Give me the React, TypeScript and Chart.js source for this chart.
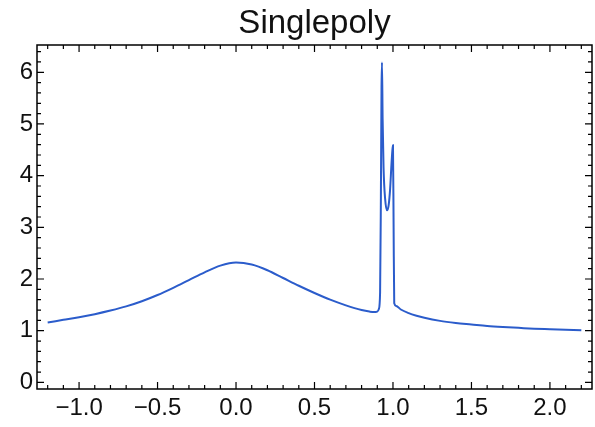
import React, { useEffect, useRef } from "react";
import { Chart, registerables } from "chart.js";

Chart.register(...registerables);

const titleText = "Singlepoly";

const xValues = [
  -1.2, -1.1, -1.0, -0.9, -0.8, -0.7, -0.6, -0.5, -0.4, -0.3, -0.2, -0.1, 0.0,
  0.1, 0.2, 0.3, 0.4, 0.5, 0.6, 0.7, 0.8, 0.85, 0.88, 0.9, 0.91, 0.918, 0.923,
  0.927, 0.93, 0.934, 0.94, 0.95, 0.962, 0.972, 0.982, 0.99, 0.996, 1.0, 1.004,
  1.008, 1.02, 1.05, 1.1, 1.15, 1.2, 1.3, 1.4, 1.5, 1.6, 1.7, 1.8, 1.9, 2.0,
  2.1, 2.2,
];

const yValues = [
  1.16, 1.21, 1.26, 1.32, 1.39, 1.47, 1.57, 1.69, 1.83, 1.98, 2.13, 2.26, 2.32,
  2.28, 2.17, 2.02, 1.87, 1.73, 1.6, 1.49, 1.4, 1.37, 1.36, 1.37, 1.42, 1.75,
  3.6, 5.7, 6.19, 5.1, 4.15, 3.55, 3.33, 3.42, 3.75, 4.2, 4.48, 4.59, 3.0,
  1.53, 1.48, 1.41, 1.34, 1.29, 1.25, 1.19, 1.15, 1.12, 1.09, 1.07, 1.055, 1.04,
  1.03, 1.02, 1.01,
];

const xMajorTicks = [-1.0, -0.5, 0.0, 0.5, 1.0, 1.5, 2.0];
const yMajorTicks = [0, 1, 2, 3, 4, 5, 6];

const X_MIN = -1.268;
const X_MAX = 2.268;
const Y_MIN = -0.128;
const Y_MAX = 6.528;

const fmt = (v: number, digits: number) => {
  const s = Math.abs(v).toFixed(digits);
  return v < -1e-9 ? "\u2212" + s : s;
};

const framePlugin = {
  id: "frameTicks",
  afterDatasetsDraw(chart: any) {
    const { ctx, chartArea } = chart;
    const { left, right, top, bottom } = chartArea;
    const xs = chart.scales.x;
    const ys = chart.scales.y;
    ctx.save();
    ctx.fillStyle = "#111";
    ctx.font = "33px 'Liberation Sans'";
    ctx.textAlign = "center";
    ctx.textBaseline = "alphabetic";
    ctx.fillText(titleText, (left + right) / 2, 33);

    ctx.strokeStyle = "#000";
    ctx.lineWidth = 1.5;
    ctx.strokeRect(left, top, right - left, bottom - top);
    ctx.lineWidth = 1.2;
    ctx.beginPath();
    for (let i = Math.ceil(X_MIN * 10); i <= Math.floor(X_MAX * 10); i++) {
      const px = xs.getPixelForValue(i / 10);
      const len = i % 5 === 0 ? 7 : 4;
      ctx.moveTo(px, bottom);
      ctx.lineTo(px, bottom - len);
      ctx.moveTo(px, top);
      ctx.lineTo(px, top + len);
    }
    for (let i = Math.ceil(Y_MIN * 5); i <= Math.floor(Y_MAX * 5); i++) {
      const py = ys.getPixelForValue(i / 5);
      const len = i % 5 === 0 ? 7 : 4;
      ctx.moveTo(left, py);
      ctx.lineTo(left + len, py);
      ctx.moveTo(right, py);
      ctx.lineTo(right - len, py);
    }
    ctx.stroke();
    ctx.restore();
  },
};

export default function App() {
  const canvasRef = useRef<HTMLCanvasElement | null>(null);

  useEffect(() => {
    if (!canvasRef.current) return;
    const points = xValues.map((x, i) => ({ x, y: yValues[i] }));
    const chart = new Chart(canvasRef.current, {
      type: "line",
      data: {
        datasets: [
          {
            data: points,
            borderColor: "#2b5ccb",
            borderWidth: 2,
            pointRadius: 0,
            fill: false,
            cubicInterpolationMode: "monotone",
          },
        ],
      },
      options: {
        responsive: false,
        animation: false,
        layout: { padding: { left: 0, right: 3, top: 45, bottom: 0 } },
        plugins: {
          legend: { display: false },
          tooltip: { enabled: false },
          title: { display: false },
        },
        scales: {
          x: {
            type: "linear",
            min: X_MIN,
            max: X_MAX,
            grid: { display: false, drawTicks: false },
            border: { display: false },
            afterBuildTicks: (s: any) => {
              s.ticks = xMajorTicks.map((v) => ({ value: v }));
            },
            afterFit: (s: any) => {
              s.height = 38;
            },
            ticks: {
              color: "#111",
              padding: 5,
              maxRotation: 0,
              autoSkip: false,
              font: { family: "Liberation Sans", size: 24 },
              callback: (v: any) => fmt(Number(v), 1),
            },
          },
          y: {
            type: "linear",
            min: Y_MIN,
            max: Y_MAX,
            grid: { display: false, drawTicks: false },
            border: { display: false },
            afterBuildTicks: (s: any) => {
              s.ticks = yMajorTicks.map((v) => ({ value: v }));
            },
            afterFit: (s: any) => {
              s.width = 37;
            },
            ticks: {
              color: "#111",
              padding: 4,
              autoSkip: false,
              font: { family: "Liberation Sans", size: 24 },
              callback: (v: any) => fmt(Number(v), 0),
            },
          },
        },
      },
      plugins: [framePlugin],
    } as any);
    return () => chart.destroy();
  }, []);

  return (
    <div
      style={{
        position: "fixed",
        left: 0,
        top: 0,
        width: 595,
        height: 427,
        background: "#fff",
      }}
    >
      <canvas ref={canvasRef} width={595} height={427} />
    </div>
  );
}
